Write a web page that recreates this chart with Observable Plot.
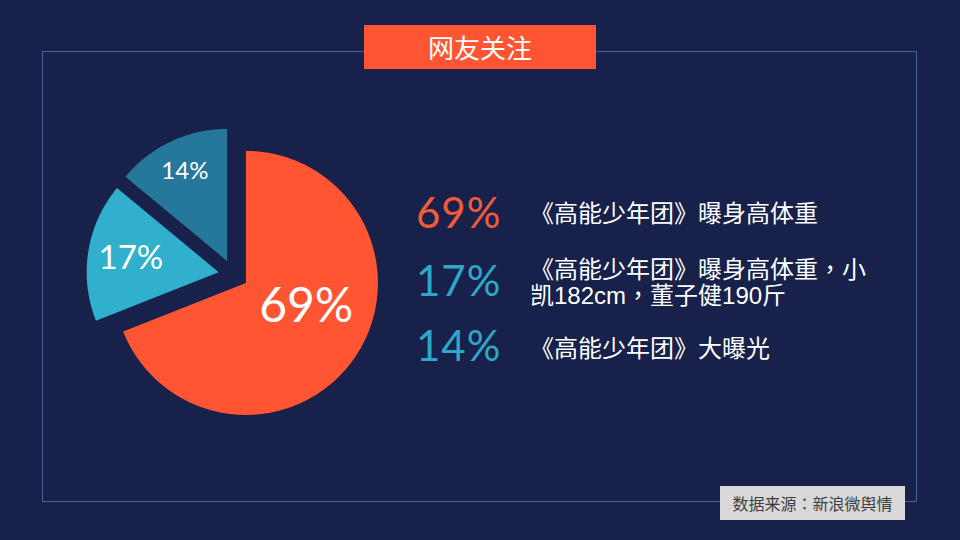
<!DOCTYPE html>
<html>
<head>
<meta charset="utf-8">
<script src="https://cdn.jsdelivr.net/npm/d3@7"></script>
<script src="https://cdn.jsdelivr.net/npm/@observablehq/plot@0.6"></script>
<style>
  html, body { margin: 0; padding: 0; background: #17214a; }
  #stage { position: relative; width: 960px; height: 540px; overflow: hidden; background: #17214a;
           font-family: "Noto Sans CJK SC", "Noto Sans", sans-serif; }
  #frame { position: absolute; left: 42px; top: 51px; width: 875px; height: 451px; border: 1px solid #4862a0; box-sizing: border-box; }
  #title { position: absolute; left: 364px; top: 25px; width: 232px; height: 44px; background: #ff5533; color: #fff;
           font-size: 26px; line-height: 44px; text-align: center; }
  #source { position: absolute; left: 720px; top: 486px; width: 185px; height: 34px; background: #d9d9d9; color: #3f3f3f;
            font-size: 16px; line-height: 34px; text-align: center; }
  #pie { position: absolute; left: 63px; top: 104px; }
  .pct { position: absolute; left: 416px; font-family: Lato, "Noto Sans", sans-serif; font-size: 42px; line-height: 48px; letter-spacing: 1px; }
  .desc { position: absolute; left: 530px; width: 400px; color: #fff; font-size: 24px; line-height: 24px;
          font-family: "Liberation Sans", "Noto Sans CJK SC", sans-serif; }
  .punct { font-family: "Noto Sans CJK TC", sans-serif; display: inline-block; width: 1em; text-align: center; }
</style>
</head>
<body>
<div id="stage">
  <div id="frame"></div>
  <div id="title"></div>
  <div id="pie"></div>
  <div id="legend"></div>
  <div id="source"></div>
</div>
<script>
// ---- data ----
const titleText = "网友关注";
const sourceText = "数据来源：新浪微舆情";
const values = [69, 17, 14];
const labels = ["69%", "17%", "14%"];
const descriptions = [
  ["《高能少年团》曝身高体重"],
  ["《高能少年团》曝身高体重，小", "凯182cm，董子健190斤"],
  ["《高能少年团》大曝光"]
];
const sliceColors = ["#ff5533", "#30b0cc", "#26789a"];
const legendColors = ["#f25a3c", "#2fa7c8", "#2fa7c8"];

// ---- layout (styles, not data) ----
const R = 132;                 // radius in px
const half = 170;              // half-size of pie svg
const explode = 15 / R;        // slice offset, in radius units
const labelFont = [48, 33, 24];
const labelPos = [{f: 0.49, turn: -13}, {f: 0.673, turn: 0}, {f: 0.752, turn: 0}];
const legendPctTop = [188, 255.5, 320.5];
const legendDescTop = [200, 256, 335];

// put full-width punctuation in a centred full-width cell
function fillText(el, str) {
  str.split(/([《》，：])/).forEach(part => {
    if (!part) return;
    if (/^[《》，：]$/.test(part)) {
      const s = document.createElement("span");
      s.className = "punct";
      s.textContent = part;
      el.appendChild(s);
    } else {
      el.appendChild(document.createTextNode(part));
    }
  });
}

document.getElementById("title").textContent = titleText;
fillText(document.getElementById("source"), sourceText);

// ---- pie geometry via d3.pie ----
const arcs = d3.pie().sort(null).startAngle(0).endAngle(2 * Math.PI)(values);
const pts = [];
const labelData = [];
arcs.forEach((a, i) => {
  const mid = (a.startAngle + a.endAngle) / 2;
  const ox = explode * Math.sin(mid), oy = explode * Math.cos(mid);
  pts.push({k: i, x: ox, y: oy});
  const n = Math.max(8, Math.ceil((a.endAngle - a.startAngle) / 0.01));
  for (let j = 0; j <= n; j++) {
    const t = a.startAngle + (a.endAngle - a.startAngle) * j / n;
    pts.push({k: i, x: ox + Math.sin(t), y: oy + Math.cos(t)});
  }
  pts.push({k: i, x: ox, y: oy});
  const la = mid + labelPos[i].turn * Math.PI / 180;
  labelData.push({k: i, text: labels[i], x: ox + labelPos[i].f * Math.sin(la), y: oy + labelPos[i].f * Math.cos(la)});
});

const L = half / R;
const chart = Plot.plot({
  width: 2 * half,
  height: 2 * half,
  margin: 0,
  x: {domain: [-L, L], axis: null},
  y: {domain: [-L, L], axis: null},
  color: {domain: [0, 1, 2], range: sliceColors},
  style: {background: "transparent", overflow: "visible"},
  marks: [
    Plot.line(pts, {x: "x", y: "y", z: "k", fill: "k", stroke: null, curve: "linear"}),
    ...labelData.map((d, i) => Plot.text([d], {
      x: "x", y: "y", text: "text", fill: "#ffffff", fontSize: labelFont[i],
      fontFamily: "Lato, 'Noto Sans', sans-serif", textAnchor: "middle", lineAnchor: "middle"
    }))
  ]
});
document.getElementById("pie").appendChild(chart);

// ---- legend ----
const legend = document.getElementById("legend");
labels.forEach((t, i) => {
  const p = document.createElement("div");
  p.className = "pct";
  p.style.top = legendPctTop[i] + "px";
  p.style.color = legendColors[i];
  p.textContent = t;
  legend.appendChild(p);
  const d = document.createElement("div");
  d.className = "desc";
  d.style.top = legendDescTop[i] + "px";
  descriptions[i].forEach((line, j) => {
    if (j) d.appendChild(document.createElement("br"));
    fillText(d, line);
  });
  legend.appendChild(d);
});
</script>
</body>
</html>
